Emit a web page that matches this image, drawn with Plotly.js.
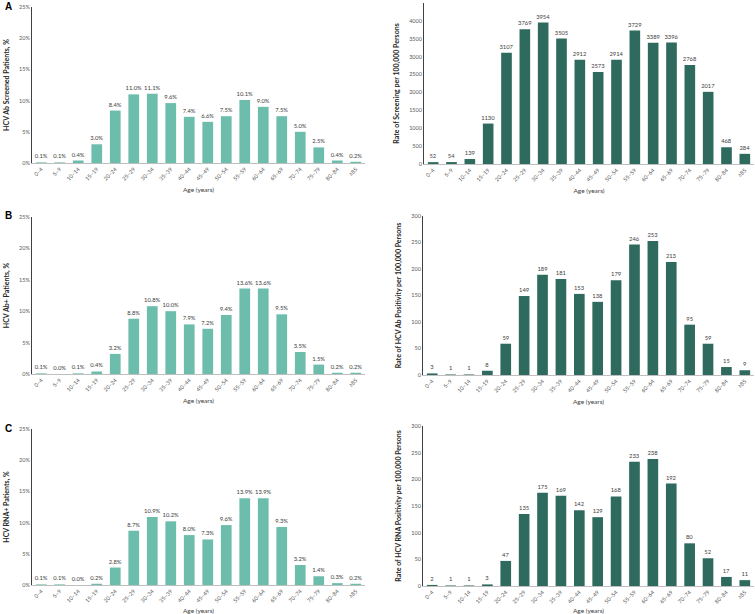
<!DOCTYPE html>
<html>
<head>
<meta charset="utf-8">
<script src="https://cdn.plot.ly/plotly-3.0.1.min.js"></script>
<style>html,body{margin:0;padding:0;background:#fff}#chart{width:755px;height:614px}</style>
</head>
<body>
<div id="chart"></div>
<script>
const ageGroups = ['0–4','5–9','10–14','15–19','20–24','25–29','30–34','35–39','40–44','45–49','50–54','55–59','60–64','65–69','70–74','75–79','80–84','≥85'];
const abScreenedPct = [0.1,0.1,0.4,3.0,8.4,11.0,11.1,9.6,7.4,6.6,7.5,10.1,9.0,7.5,5.0,2.5,0.4,0.2];
const screeningRate = [52,54,139,1130,3107,3769,3954,3505,2912,2573,2914,3729,3389,3396,2768,2017,468,284];
const abPositivePct = [0.1,0.0,0.1,0.4,3.2,8.8,10.8,10.0,7.9,7.2,9.4,13.6,13.6,9.5,3.5,1.5,0.2,0.2];
const abPositiveRate = [3,1,1,8,59,149,189,181,153,138,179,246,253,213,95,59,15,9];
const rnaPositivePct = [0.1,0.1,0.0,0.2,2.8,8.7,10.9,10.2,8.0,7.3,9.6,13.9,13.9,9.3,3.2,1.4,0.3,0.2];
const rnaPositiveRate = [2,1,1,3,47,135,175,169,142,129,168,233,238,192,80,52,17,11];

const leftTitles = ['HCV Ab Screened Patients, %','HCV Ab+ Patients, %','HCV RNA+ Patients, %'];
const rightTitles = ['Rate of Screening per 100,000 Persons','Rate of HCV Ab Positivity per 100,000 Persons','Rate of HCV RNA Positivity per 100,000 Persons'];
const panelLetters = ['A','B','C'];

const LIGHT = '#6dbdad', DARK = '#2e6a5d';
const FONT = 'Lato, "Open Sans", sans-serif';
const W = 755, H = 614;

const leftData = [abScreenedPct, abPositivePct, rnaPositivePct];
const rightData = [screeningRate, abPositiveRate, rnaPositiveRate];

// pixel geometry of each panel: [x0,x1,yTop,yBottom]
const leftGeom = [[32,365,7,163],[32,365,217,374],[32,365,429,585]];
const rightGeom = [[424,754,3,164],[423,754,216,375],[423,754,426,586]];
const rightRanges = [[0,4500,500],[0,300,50],[0,300,50]];

const traces = [];
const layout = {
  width: W, height: H,
  margin: {l:0,r:0,t:0,b:0},
  paper_bgcolor: '#fff', plot_bgcolor: '#fff',
  showlegend: false,
  bargap: 0.42,
  font: {family: FONT, color: '#595959', size: 6},
  annotations: []
};

function addPanel(idx, values, geom, isLeft, range, title, color) {
  const n = idx + 1;
  const xa = n === 1 ? 'x' : 'x' + n;
  const ya = n === 1 ? 'y' : 'y' + n;
  traces.push({
    type: 'bar', x: ageGroups, y: values, xaxis: xa, yaxis: ya,
    marker: {color: color},
    text: values.map(v => isLeft ? v.toFixed(1) + '%' : String(v)),
    textposition: 'outside', cliponaxis: false, constraintext: 'none',
    textfont: {size: 5.8, color: '#404040', family: FONT},
    hoverinfo: 'skip'
  });
  const xKey = n === 1 ? 'xaxis' : 'xaxis' + n;
  const yKey = n === 1 ? 'yaxis' : 'yaxis' + n;
  layout[xKey] = {
    domain: [geom[0]/W, geom[1]/W], anchor: ya,
    type: 'category', range: [-0.5, 17.5],
    tickangle: -45, tickfont: {size: 5.5, color: '#595959'},
    showline: true, linecolor: '#bfbfbf', linewidth: 1,
    showgrid: false, zeroline: false, ticks: '',
    title: {text: 'Age (years)', font: {size: 6.5, color: '#404040'}, standoff: 6}
  };
  layout[yKey] = {
    domain: [1 - geom[3]/H, 1 - geom[2]/H], anchor: xa,
    range: [range[0], range[1]], dtick: range[2], tick0: 0,
    ticksuffix: isLeft ? '%' : '',
    tickfont: {size: 5.5, color: '#595959'},
    showline: true, linecolor: '#404040', linewidth: 1,
    showgrid: false, zeroline: false, ticks: '',
    title: {text: '<b>' + title + '</b>', font: {size: 7, color: '#262626'}, standoff: 8}
  };
}

for (let i = 0; i < 3; i++) {
  addPanel(i*2, leftData[i], leftGeom[i], true, [0,25,5], leftTitles[i], LIGHT);
  addPanel(i*2+1, rightData[i], rightGeom[i], false, rightRanges[i], rightTitles[i], DARK);
  layout.annotations.push({
    xref: 'paper', yref: 'paper', x: 3/W, y: 1 - (leftGeom[i][2] - 1)/H,
    xanchor: 'left', yanchor: 'middle', showarrow: false,
    text: '<b>' + panelLetters[i] + '</b>',
    font: {size: 10, color: '#000', family: 'Liberation Sans, Arial, sans-serif'}
  });
}

Plotly.newPlot('chart', traces, layout, {displayModeBar: false, staticPlot: true});
</script>
</body>
</html>
